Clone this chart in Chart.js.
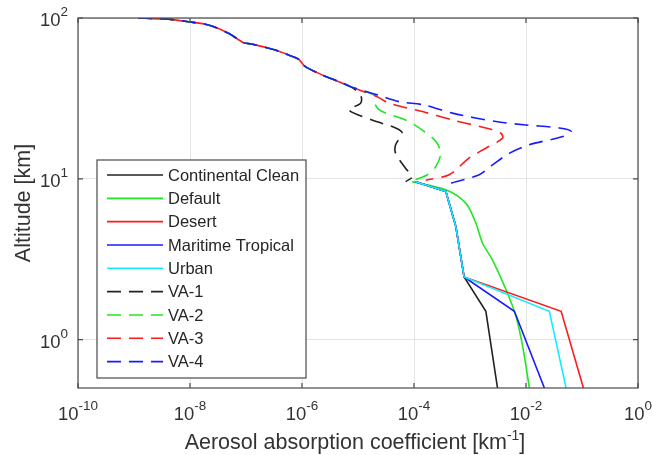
<!DOCTYPE html>
<html>
<head>
<meta charset="utf-8">
<script src="https://cdn.jsdelivr.net/npm/chart.js@4"></script>
<style>
  html, body { margin: 0; padding: 0; background: #fff; }
  #chart-container { width: 652px; height: 455px; }
</style>
</head>
<body>
<div id="chart-container"><canvas id="absChart"></canvas></div>
<script>
// Axis ticks (log decades)
const xTicks = [1e-10, 1e-8, 1e-6, 1e-4, 1e-2, 1];
const xTickExp = ['-10', '-8', '-6', '-4', '-2', '0'];
const yTicks = [1, 10, 100];
const yTickExp = ['0', '1', '2'];

const seriesLabels = ['Continental Clean', 'Default', 'Desert', 'Maritime Tropical', 'Urban',
                      'VA-1', 'VA-2', 'VA-3', 'VA-4'];

// Upper atmosphere part shared by the VA profiles [km] / [km^-1]
const topAlt = [100, 98.2, 94.8, 90.5, 80.4, 70.3, 68.9, 63.2, 58.9, 55.4, 49.8, 44.3, 40.2, 37.4];
const topVal = [1.19e-9, 4.1e-9, 9.4e-9, 2.13e-8, 4.88e-8, 9.0e-8, 1.26e-7, 3.34e-7, 5.78e-7, 8.7e-7, 1.15e-6, 2.28e-6, 4.54e-6, 7.36e-6];

// Stratospheric branches
const va1Alt = [33.3, 29.5, 26.8, 23.2, 20.7, 19.2, 16.3, 14.4, 11.6, 10.3, 9.6];
const va1Val = [1.11e-5, 1.11e-5, 6.86e-6, 1.79e-5, 4.7e-5, 6.17e-5, 4.7e-5, 4.7e-5, 7.1e-5, 9.3e-5, 7.1e-5];
const va2Alt = [32.4, 28.8, 26.2, 23.2, 20.1, 17.1, 14.4, 11.9, 10.6, 9.86];
const va2Val = [2.2e-5, 2.06e-5, 2.7e-5, 7.1e-5, 1.41e-4, 2.45e-4, 3.0e-4, 2.45e-4, 1.73e-4, 1.07e-4];
const va3Alt = [32.4, 29.5, 26.2, 23.2, 20.7, 19.2, 17.9, 15.5, 13.5, 10.6, 9.8];
const va3Val = [2.2e-5, 3.57e-5, 1.41e-4, 4.85e-4, 1.92e-3, 3.56e-3, 3.81e-3, 1.92e-3, 9.7e-4, 4.24e-4, 1.62e-4];
const va4Alt = [33.3, 30.2, 28.8, 25.6, 22.7, 21.6, 20.7, 19.7, 18.3, 16.3, 14.4, 12.2, 10.6, 9.4];
const va4Val = [2.2e-5, 5.38e-5, 1.51e-4, 4.85e-4, 2.9e-3, 0.01, 0.0394, 0.064, 0.0452, 0.01146, 5.0e-3, 2.52e-3, 1.46e-3, 4.54e-4];

// Troposphere / boundary layer
const tropAlt = [9.6, 8.34, 5.06, 2.45];
const tropVal = [1.07e-4, 3.7e-4, 5.58e-4, 7.85e-4];
const blAlt = [1.5, 0.5];
const ccVal = [1.92e-3, 3.1e-3];
const desertVal = [0.0424, 0.106];
const maritimeVal = [6.2e-3, 0.0213];
const urbanVal = [0.0261, 0.052];
const defaultAlt = [9.6, 8.54, 7.06, 5.31, 3.99, 3.14, 2.05, 1.40, 0.91, 0.5];
const defaultVal = [9.3e-5, 3.7e-4, 8.4e-4, 1.27e-3, 1.67e-3, 2.5e-3, 4.39e-3, 6.6e-3, 8.7e-3, 0.0115];

const colors = ['#222222', '#22e622', '#ff1a1a', '#1a1aff', '#11eeff', '#222222', '#22e622', '#ff1a1a', '#1a1aff'];
const DASH = [14, 8];
const FONT = '"Liberation Sans", Arial, sans-serif';

function pts(alts, vals) {
  return alts.map((a, i) => ({ x: vals[i], y: a }));
}

const seriesData = [
  pts(tropAlt.concat(blAlt), tropVal.concat(ccVal)),
  pts(defaultAlt, defaultVal),
  pts(tropAlt.concat(blAlt), tropVal.concat(desertVal)),
  pts(tropAlt.concat(blAlt), tropVal.concat(maritimeVal)),
  pts(tropAlt.concat(blAlt), tropVal.concat(urbanVal)),
  pts(topAlt.concat(va1Alt), topVal.concat(va1Val)),
  pts(topAlt.concat(va2Alt), topVal.concat(va2Val)),
  pts(topAlt.concat(va3Alt), topVal.concat(va3Val)),
  pts(topAlt.concat(va4Alt), topVal.concat(va4Val))
];

const datasets = seriesLabels.map((label, i) => ({
  label: label,
  data: seriesData[i],
  borderColor: colors[i],
  backgroundColor: colors[i],
  borderWidth: 1.6,
  borderDash: i >= 5 ? DASH : [],
  borderDashOffset: i === 7 ? 12 : 0,
  tension: i >= 5 || i === 1 ? 0.3 : 0,
  showLine: true,
  pointRadius: 0,
  fill: false,
  order: -i
}));

function powLabel(ctx, exp, x, y, align, big, small) {
  ctx.font = big + 'px ' + FONT;
  const wb = ctx.measureText('10').width;
  ctx.font = small + 'px ' + FONT;
  const we = ctx.measureText(exp).width;
  const x0 = align === 'center' ? x - (wb + we) / 2 : x - (wb + we);
  ctx.textAlign = 'left';
  ctx.textBaseline = 'alphabetic';
  ctx.font = big + 'px ' + FONT;
  ctx.fillText('10', x0, y);
  ctx.font = small + 'px ' + FONT;
  ctx.fillText(exp, x0 + wb, y - 10);
}

const framePlugin = {
  id: 'frame',
  afterDraw(chart) {
    const { ctx, chartArea: a, scales: { x, y } } = chart;
    ctx.save();

    // axes box + inward ticks
    ctx.strokeStyle = '#4a4a4a';
    ctx.lineWidth = 1.2;
    ctx.strokeRect(a.left, a.top, a.right - a.left, a.bottom - a.top);
    ctx.beginPath();
    xTicks.forEach(v => {
      const px = x.getPixelForValue(v);
      ctx.moveTo(px, a.bottom); ctx.lineTo(px, a.bottom - 5);
      ctx.moveTo(px, a.top); ctx.lineTo(px, a.top + 5);
    });
    yTicks.forEach(v => {
      const py = y.getPixelForValue(v);
      ctx.moveTo(a.left, py); ctx.lineTo(a.left + 5, py);
      ctx.moveTo(a.right, py); ctx.lineTo(a.right - 5, py);
    });
    ctx.stroke();

    // tick labels
    ctx.fillStyle = '#333333';
    xTicks.forEach((v, i) => powLabel(ctx, xTickExp[i], x.getPixelForValue(v), a.bottom + 32, 'center', 18.5, 13.5));
    yTicks.forEach((v, i) => powLabel(ctx, yTickExp[i], a.left - 10, y.getPixelForValue(v) + 8, 'right', 18.5, 13.5));

    // x title with superscript
    const t1 = 'Aerosol absorption coefficient [km', sup = '-1', t2 = ']';
    ctx.font = '21.5px ' + FONT;
    const w1 = ctx.measureText(t1).width, w3 = ctx.measureText(t2).width;
    ctx.font = '14px ' + FONT;
    const w2 = ctx.measureText(sup).width;
    let tx = (a.left + a.right) / 2 - 3 - (w1 + w2 + w3) / 2;
    const ty = a.bottom + 61;
    ctx.textAlign = 'left';
    ctx.font = '21.5px ' + FONT;
    ctx.fillText(t1, tx, ty);
    ctx.font = '14px ' + FONT;
    ctx.fillText(sup, tx + w1, ty - 9);
    ctx.font = '21.5px ' + FONT;
    ctx.fillText(t2, tx + w1 + w2, ty);

    // y title
    ctx.save();
    ctx.translate(30, (a.top + a.bottom) / 2);
    ctx.rotate(-Math.PI / 2);
    ctx.textAlign = 'center';
    ctx.font = '21.5px ' + FONT;
    ctx.fillText('Altitude [km]', 0, 0);
    ctx.restore();

    // legend box
    const lx = 97, ly = 160, lw = 209, lh = 218;
    ctx.fillStyle = '#ffffff';
    ctx.fillRect(lx, ly, lw, lh);
    ctx.strokeStyle = '#4a4a4a';
    ctx.lineWidth = 1.2;
    ctx.strokeRect(lx, ly, lw, lh);
    chart.data.datasets.forEach((ds, i) => {
      const ry = 175 + i * 23.33;
      ctx.beginPath();
      ctx.strokeStyle = ds.borderColor;
      ctx.lineWidth = 1.6;
      ctx.setLineDash(ds.borderDash);
      ctx.moveTo(107, ry);
      ctx.lineTo(163, ry);
      ctx.stroke();
      ctx.setLineDash([]);
      ctx.fillStyle = '#262626';
      ctx.font = '16.5px ' + FONT;
      ctx.textBaseline = 'middle';
      ctx.fillText(ds.label, 168, ry + 1);
      ctx.textBaseline = 'alphabetic';
    });

    ctx.restore();
  }
};

const ctx = document.getElementById('absChart').getContext('2d');
new Chart(ctx, {
  type: 'scatter',
  data: { datasets: datasets },
  options: {
    responsive: true,
    maintainAspectRatio: false,
    animation: false,
    devicePixelRatio: 1,
    layout: { padding: { top: 18, right: 14, left: 0, bottom: 0 } },
    plugins: { legend: { display: false }, tooltip: { enabled: false } },
    scales: {
      x: {
        type: 'logarithmic',
        min: 1e-10,
        max: 1,
        afterBuildTicks: s => { s.ticks = xTicks.map(v => ({ value: v })); },
        afterFit: s => { s.height = 67; },
        ticks: { display: false },
        grid: { color: '#e4e4e4', drawTicks: false },
        border: { display: false }
      },
      y: {
        type: 'logarithmic',
        min: 0.5,
        max: 100,
        afterBuildTicks: s => { s.ticks = yTicks.map(v => ({ value: v })); },
        afterFit: s => { s.width = 78; },
        ticks: { display: false },
        grid: { color: '#e4e4e4', drawTicks: false },
        border: { display: false }
      }
    }
  },
  plugins: [framePlugin]
});
</script>
</body>
</html>
